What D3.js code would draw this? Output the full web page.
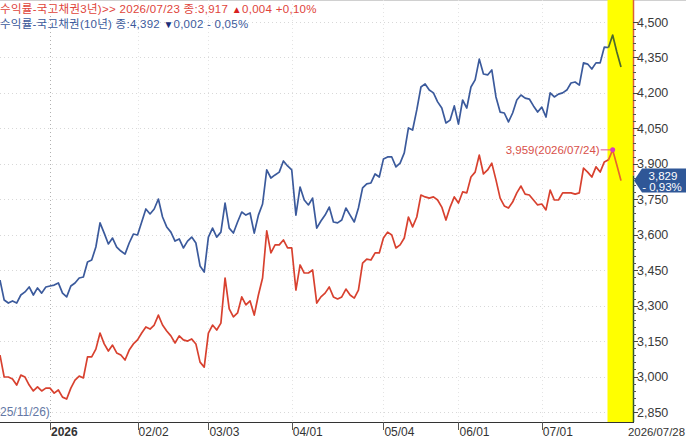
<!DOCTYPE html>
<html><head><meta charset="utf-8">
<script src="https://cdn.jsdelivr.net/npm/d3@7"></script>
<style>
body{margin:0;background:#fff;overflow:hidden;}
svg{display:block;font-family:"Liberation Sans Narrow","Liberation Sans",Arial,sans-serif;}
</style>
</head><body>
<svg id="c" width="686" height="440"></svg>
<script>
// ---- data (one value per trading session) ----
const yield3y = [
3.091,2.998,2.998,2.990,2.964,3.006,2.998,2.964,2.939,2.956,2.939,2.951,2.951,2.930,2.943,2.913,2.905,2.951,2.985,3.002,
2.994,3.083,3.083,3.116,3.184,3.138,3.108,3.133,3.100,3.091,3.070,3.112,3.138,3.155,3.184,3.210,3.201,3.218,3.260,3.218,
3.193,3.172,3.142,3.172,3.155,3.150,3.159,3.138,3.061,3.040,3.184,3.218,3.197,
3.226,3.417,3.286,3.252,3.269,3.337,3.303,3.320,3.260,3.345,3.417,3.616,3.523,3.557,3.557,3.578,3.544,3.544,3.366,3.472,
3.438,3.438,3.451,3.311,3.337,3.353,3.379,3.337,3.328,3.337,3.370,3.345,3.332,3.366,3.480,3.497,3.493,3.523,3.523,3.586,
3.611,3.599,3.544,3.557,3.586,3.675,3.633,3.675,3.768,
3.760,3.755,3.760,3.747,3.717,3.662,3.717,3.760,3.734,3.781,3.777,3.844,3.865,3.937,3.857,3.874,3.903,3.832,3.755,3.722,
3.713,3.738,3.777,3.806,3.772,3.768,3.747,3.726,3.730,3.705,3.789,3.747,3.747,3.777,3.777,3.777,3.772,3.777,3.882,3.865,
3.844,3.887,3.865,3.908,3.917,3.959,3.895,3.829];
const yield10y = [
3.408,3.324,3.311,3.320,3.311,3.345,3.358,3.379,3.345,3.375,3.353,3.379,3.383,3.387,3.396,3.353,3.337,3.383,3.396,3.417,
3.421,3.485,3.493,3.548,3.650,3.607,3.561,3.586,3.548,3.531,3.518,3.565,3.603,3.599,3.654,3.709,3.688,3.709,3.751,3.675,
3.633,3.611,3.573,3.582,3.544,3.573,3.590,3.565,3.468,3.442,3.590,3.628,3.590,
3.611,3.734,3.628,3.607,3.654,3.696,3.683,3.692,3.607,3.683,3.730,3.874,3.840,3.853,3.865,3.912,3.891,3.874,3.683,3.802,
3.747,3.726,3.755,3.628,3.658,3.683,3.717,3.654,3.650,3.662,3.713,3.683,3.654,3.713,3.798,3.815,3.819,3.857,3.844,3.920,
3.929,3.929,3.887,3.903,3.946,4.052,4.043,4.128,4.225,
4.238,4.212,4.200,4.162,4.136,4.073,4.085,4.145,4.068,4.170,4.136,4.225,4.255,4.343,4.280,4.276,4.297,4.183,4.119,4.115,
4.077,4.115,4.170,4.191,4.178,4.174,4.145,4.119,4.140,4.098,4.200,4.183,4.195,4.200,4.212,4.242,4.246,4.233,4.327,4.322,
4.301,4.327,4.327,4.394,4.392,4.445,4.373,4.310];
const xTickIndex  = [12, 33, 50, 70, 92, 110, 130];
const xTickLabels = ["2026", "02/02", "03/03", "04/01", "05/04", "06/01", "07/01"];
const endDateLabel = "2026/07/28";
const yTicks = [2.85, 3.00, 3.15, 3.30, 3.45, 3.60, 3.75, 3.90, 4.05, 4.20, 4.35, 4.50];
const highlightFrom = 146;          // 2026/07/23
const peakIndex = 147;              // 2026/07/24
const peakLabel = "3,959(2026/07/24)";
const lastLabel = ["3,829", "- 0,93%"];
const leftNote = "25/11/26)";
const legend3y = ["수익률-국고채권3년)>> 2026/07/23 종:3,917 ", "▲", "0,004 +0,10%"];
const legend10y = ["수익률-국고채권(10년) 종:4,392 ", "▼", "0,002  - 0,05%"];

// ---- layout ----
const svg = d3.select("#c");
const plotRight = 633, axisY = 422;
const x = d3.scaleLinear().domain([0, yield3y.length - 1]).range([0, 621]);
const y = d3.scaleLinear().domain([2.85, 4.5]).range([412, 22]);
const fmt = v => v.toFixed(3).replace(".", ",");

const blue = "#3b5a9c", red = "#d8412f", blueHi = "#4d6a2c", redHi = "#e8642e";

// top border
svg.append("line").attr("x1",0).attr("x2",686).attr("y1",0.5).attr("y2",0.5).attr("stroke","#d0d0d0");

// highlight band
svg.append("rect").attr("x", x(highlightFrom) - 1).attr("y", 0)
  .attr("width", plotRight - x(highlightFrom) + 1).attr("height", axisY)
  .attr("fill", "#ffff00");

// grid
const g = svg.append("g");
g.selectAll(".hg").data(yTicks).join("line")
  .attr("x1", 0).attr("x2", x(highlightFrom) - 1)
  .attr("y1", d => Math.round(y(d)) + 0.5).attr("y2", d => Math.round(y(d)) + 0.5)
  .attr("stroke", "#d8d8d8").attr("stroke-dasharray", "1,3");
g.selectAll(".vg").data(xTickIndex).join("line")
  .attr("x1", d => Math.round(x(d)) + 0.5).attr("x2", d => Math.round(x(d)) + 0.5)
  .attr("y1", 0).attr("y2", axisY)
  .attr("stroke", (d, i) => i === 0 ? "#b0b0b0" : "#e4e4e4")
  .attr("stroke-dasharray", "1,3");

// lines
const line = d3.line().x(d => x(d.i)).y(d => y(d.v));
function drawSeries(vals, c, cHi) {
  const pts = vals.map((v, i) => ({i, v}));
  svg.append("path").attr("d", line(pts.slice(0, highlightFrom + 1)))
    .attr("fill", "none").attr("stroke", c).attr("stroke-width", 1.7).attr("stroke-linejoin", "round");
  svg.append("path").attr("d", line(pts.slice(highlightFrom)))
    .attr("fill", "none").attr("stroke", cHi).attr("stroke-width", 1.7).attr("stroke-linejoin", "round");
}
drawSeries(yield10y, blue, blueHi);
drawSeries(yield3y, red, redHi);

// peak annotation
const px = x(peakIndex), py = y(yield3y[peakIndex]);
svg.append("line").attr("x1", px - 12).attr("x2", px).attr("y1", py).attr("y2", py)
  .attr("stroke", "#e0508a").attr("stroke-width", 1);
svg.append("circle").attr("cx", px).attr("cy", py).attr("r", 2.5).attr("fill", "#d83cc0");
svg.append("text").attr("x", px - 13).attr("y", py + 4).attr("text-anchor", "end")
  .attr("font-size", 11.5).attr("fill", "#d8504a").text(peakLabel);

// right axis line (two-tone)
svg.append("line").attr("x1", plotRight + 0.5).attr("x2", plotRight + 0.5).attr("y1", 0).attr("y2", y(3.85))
  .attr("stroke", "#d9603a").attr("stroke-width", 1.5);
svg.append("line").attr("x1", plotRight + 0.5).attr("x2", plotRight + 0.5).attr("y1", y(3.85)).attr("y2", axisY)
  .attr("stroke", "#2f5a2a").attr("stroke-width", 1.5);

// right axis ticks
const minor = d3.range(2.85, 4.5001, 0.03);
svg.selectAll(".mt").data(minor).join("line")
  .attr("x1", plotRight).attr("x2", plotRight + 3)
  .attr("y1", d => Math.round(y(d)) + 0.5).attr("y2", d => Math.round(y(d)) + 0.5)
  .attr("stroke", "#555");
svg.selectAll(".yt").data(yTicks).join("line")
  .attr("x1", plotRight).attr("x2", plotRight + 5)
  .attr("y1", d => Math.round(y(d)) + 0.5).attr("y2", d => Math.round(y(d)) + 0.5)
  .attr("stroke", "#444");
svg.selectAll(".yl").data(yTicks).join("text")
  .attr("x", plotRight + 4).attr("y", d => y(d) + 4.5)
  .attr("font-size", 12.5).attr("fill", "#3a3a3a").text(fmt);

// last value box
const ly = y(yield3y[yield3y.length - 1]);
svg.append("path")
  .attr("d", `M${plotRight + 1},${ly} L${plotRight + 9},${ly - 12} L686,${ly - 12} L686,${ly + 12} L${plotRight + 9},${ly + 12} Z`)
  .attr("fill", "#2f5797");
svg.append("text").attr("x", 663).attr("y", ly - 0.5).attr("text-anchor", "middle")
  .attr("font-size", 11.5).attr("fill", "#fff").text(lastLabel[0]);
svg.append("text").attr("x", 662).attr("y", ly + 10.5).attr("text-anchor", "middle")
  .attr("font-size", 11.5).attr("fill", "#fff").text(lastLabel[1]);

// bottom axis
svg.append("line").attr("x1", 0).attr("x2", plotRight + 1).attr("y1", axisY + 0.5).attr("y2", axisY + 0.5)
  .attr("stroke", "#333").attr("stroke-width", 1);
svg.selectAll(".xt").data(xTickIndex).join("line")
  .attr("x1", d => Math.round(x(d)) + 0.5).attr("x2", d => Math.round(x(d)) + 0.5)
  .attr("y1", axisY).attr("y2", axisY + 8).attr("stroke", "#555");
svg.selectAll(".xl").data(xTickIndex).join("text")
  .attr("x", d => x(d) + 1).attr("y", axisY + 14)
  .attr("font-size", 12).attr("fill", "#333")
  .attr("font-weight", (d, i) => i === 0 ? "bold" : "normal")
  .text((d, i) => xTickLabels[i]);
svg.append("text").attr("x", 628).attr("y", axisY + 14)
  .attr("font-size", 11.5).attr("textLength", 57).attr("lengthAdjust", "spacingAndGlyphs")
  .attr("fill", "#333").text(endDateLabel);

// left note
svg.append("text").attr("x", 0).attr("y", 416)
  .attr("font-size", 12).attr("fill", "#6478a6").text(leftNote);

// legends
const legendFont = "'Liberation Sans', 'Noto Sans CJK KR', sans-serif";
const l1 = svg.append("text").attr("x", 0).attr("y", 13).attr("font-size", 11.5)
  .attr("letter-spacing", 0.3)
  .attr("font-family", legendFont).attr("fill", "#e0443a");
l1.append("tspan").text(legend3y[0]);
l1.append("tspan").attr("fill", "#d82020").attr("font-size", 10).text(legend3y[1]);
l1.append("tspan").text(legend3y[2]);
const l2 = svg.append("text").attr("x", 0).attr("y", 27.5).attr("font-size", 11.5)
  .attr("letter-spacing", 0.25)
  .attr("font-family", legendFont).attr("fill", "#3b5a9c");
l2.append("tspan").text(legend10y[0]);
l2.append("tspan").attr("fill", "#1d2f7a").attr("font-size", 10).text(legend10y[1]);
l2.append("tspan").text(legend10y[2]);
</script>
</body></html>
